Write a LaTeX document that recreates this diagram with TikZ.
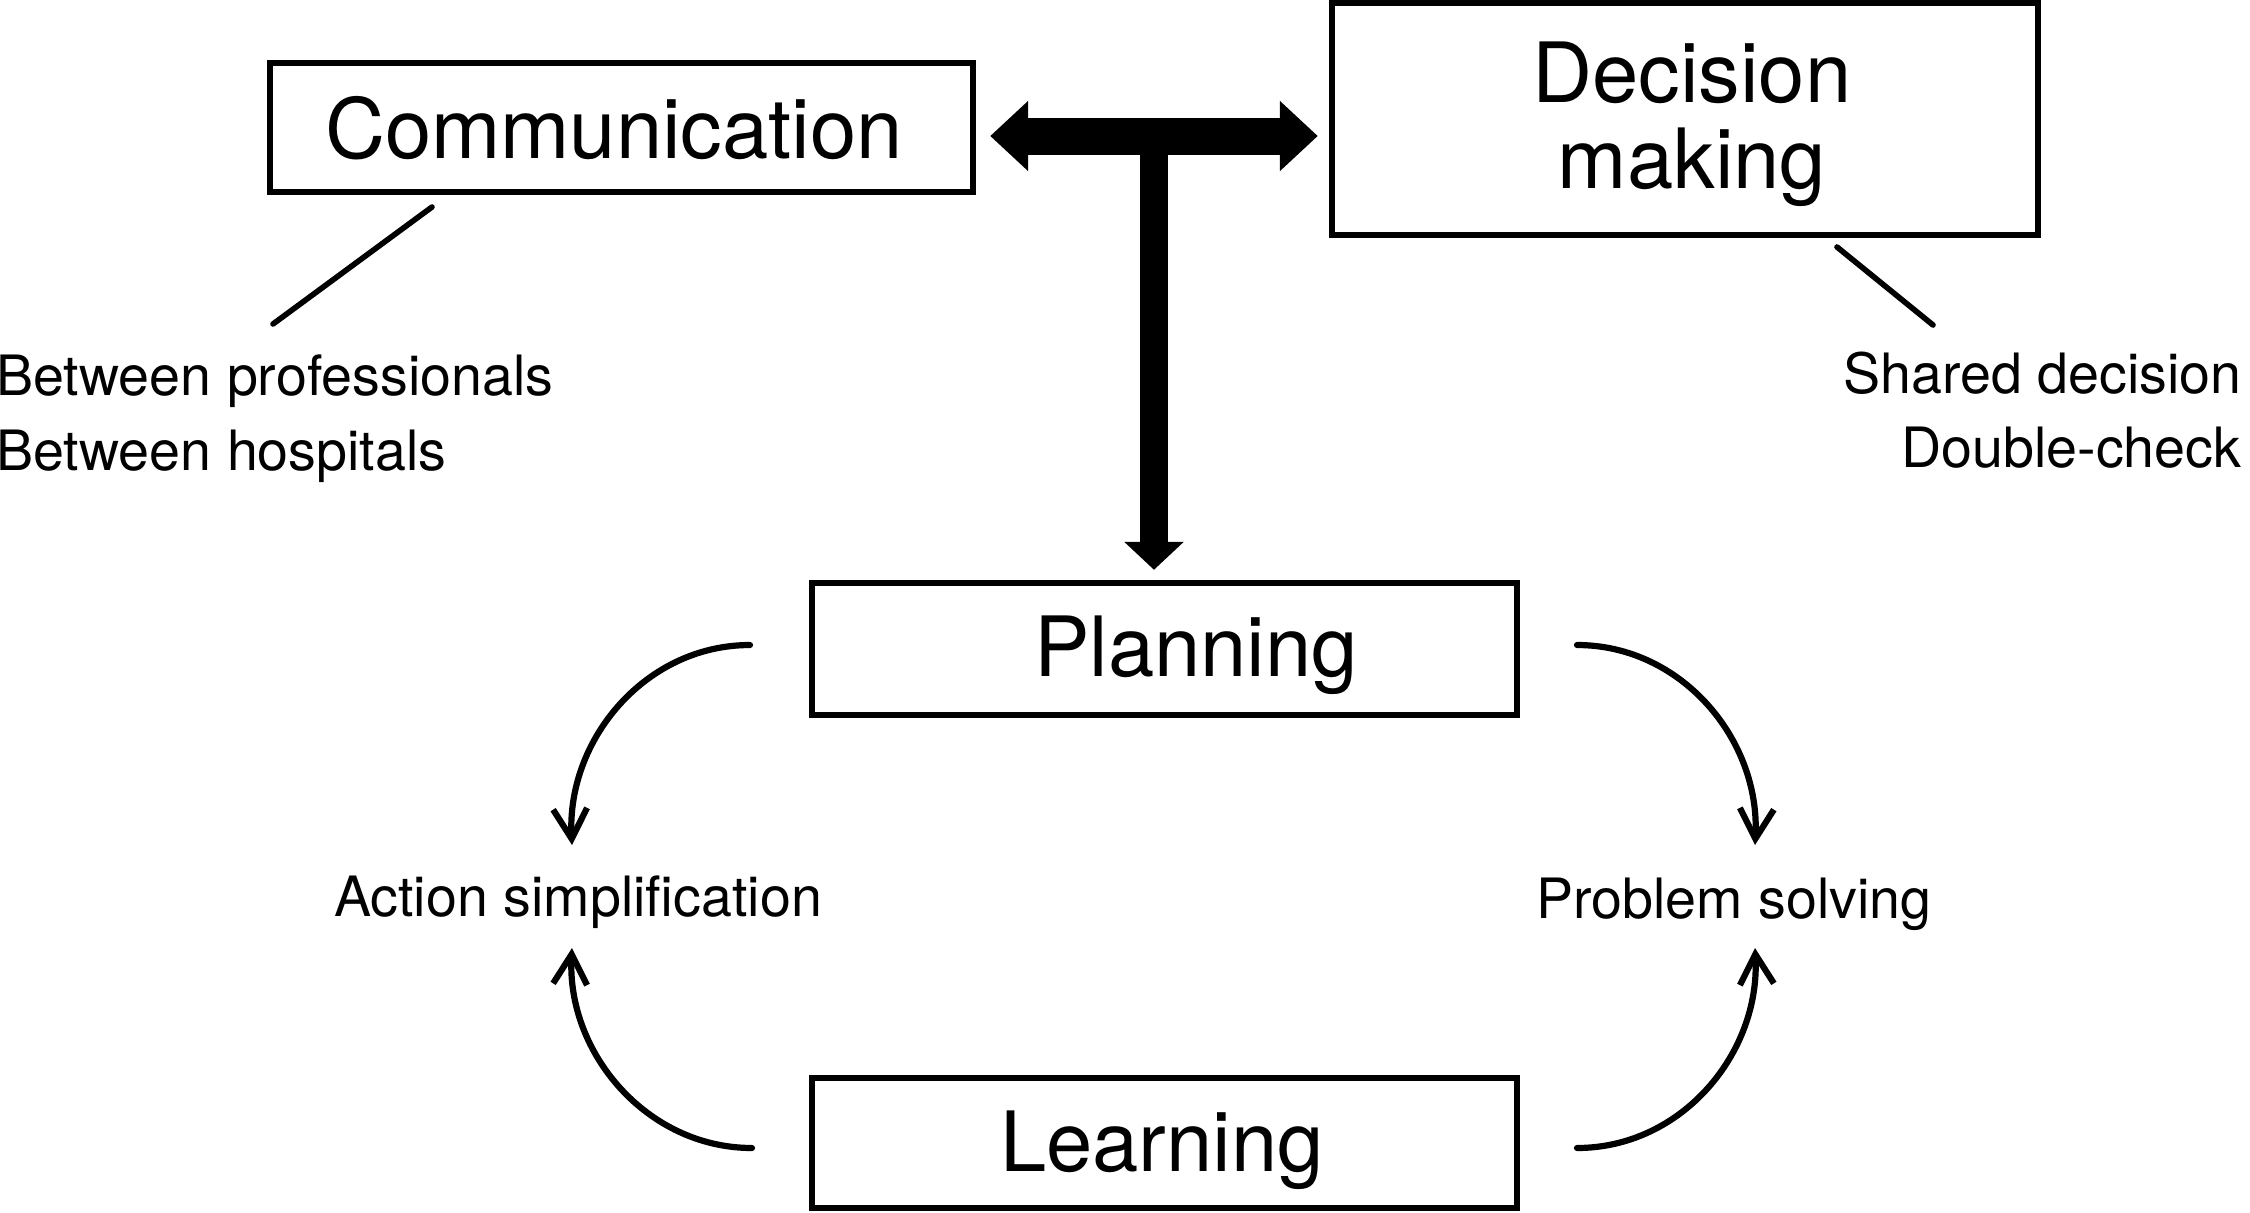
\documentclass[tikz,border=0pt]{standalone}
\usepackage{fontspec}
\setmainfont{TeX Gyre Heros}
\usetikzlibrary{arrows.meta}
\begin{document}
\begin{tikzpicture}[x=0.5pt,y=-0.5pt,
  box/.style={draw, line width=3.2pt, inner sep=0pt, minimum height=#1},
  box/.default=65pt,
  bigtext/.style={anchor=base, inner sep=0pt, font=\fontsize{41.6pt}{49pt}\selectfont},
  smalltext/.style={inner sep=0pt, font=\fontsize{27.8pt}{33pt}\selectfont},
  leader/.style={line width=2.8pt, line cap=round},
  cycarrow/.style={line width=3.1pt, line cap=round, -{Straight Barb[length=15pt,width=17pt,line width=3.1pt]}},
  bigarrow/.style={line width=18.5pt, {Triangle[length=19pt,width=34pt]}-{Triangle[length=19pt,width=34pt]}},
  downarrow/.style={line width=14pt, -{Triangle[length=14pt,width=29pt]}}
]
\useasboundingbox (0,0) rectangle (2250,1212);

% boxes
\node[box=64.5pt, minimum width=351.5pt] (comm) at (621.5,127.5) {};
\node[box=116pt, minimum width=353pt] (dec) at (1685,119) {};
\node[box=66pt, minimum width=352.5pt] (plan) at (1164.5,649) {};
\node[box=65pt, minimum width=352.5pt] (learn) at (1164.5,1143) {};

% box texts
\node[bigtext] (commt) at (614,158) {Communication};
\node[bigtext] (dect1) at (1692,102) {Decision};
\node[bigtext] (dect2) at (1692,188) {making};
\node[bigtext] (plant) at (1196,676) {Planning};
\node[bigtext] (learnt) at (1162,1171) {Learning};

% side texts
\node[smalltext, anchor=base west] (bp) at (-4,395) {Between professionals};
\node[smalltext, anchor=base west] (bh) at (-4,470) {Between hospitals};
\node[smalltext, anchor=base east] (sd) at (2242,393) {Shared decision};
\node[smalltext, anchor=base east] (dc) at (2242,467) {Double-check};
\node[smalltext, anchor=base] (act) at (578,916) {Action simplification};
\node[smalltext, anchor=base] (prob) at (1734,918) {Problem solving};

% leader lines
\coordinate (cl1) at (432,207);
\coordinate (cl2) at (273,324);
\coordinate (dl1) at (1837,247);
\coordinate (dl2) at (1933,325);
\draw[leader] (cl1) -- (cl2);
\draw[leader] (dl1) -- (dl2);

% T arrow
\coordinate (tj) at (1154,136);
\draw[bigarrow, shorten <=7pt, shorten >=5.5pt] (comm.east |- tj) -- (dec.west |- tj);
\draw[downarrow, shorten >=5pt] (tj) -- (plan.north -| tj);

% cycle arrows
\coordinate (ptl) at (750,645);
\coordinate (ptr) at (1577,645);
\coordinate (lbl) at (752,1148);
\coordinate (lbr) at (1577,1148);
\coordinate (atop) at (572,845);
\coordinate (abot) at (572,948);
\coordinate (ptop) at (1755,845);
\coordinate (pbot) at (1755,948);
\draw[cycarrow] (ptl) to[out=180, in=93] (atop);
\draw[cycarrow] (lbl) to[out=180, in=-93] (abot);
\draw[cycarrow] (ptr) to[out=0, in=87] (ptop);
\draw[cycarrow] (lbr) to[out=0, in=-87] (pbot);
\end{tikzpicture}
\end{document}
